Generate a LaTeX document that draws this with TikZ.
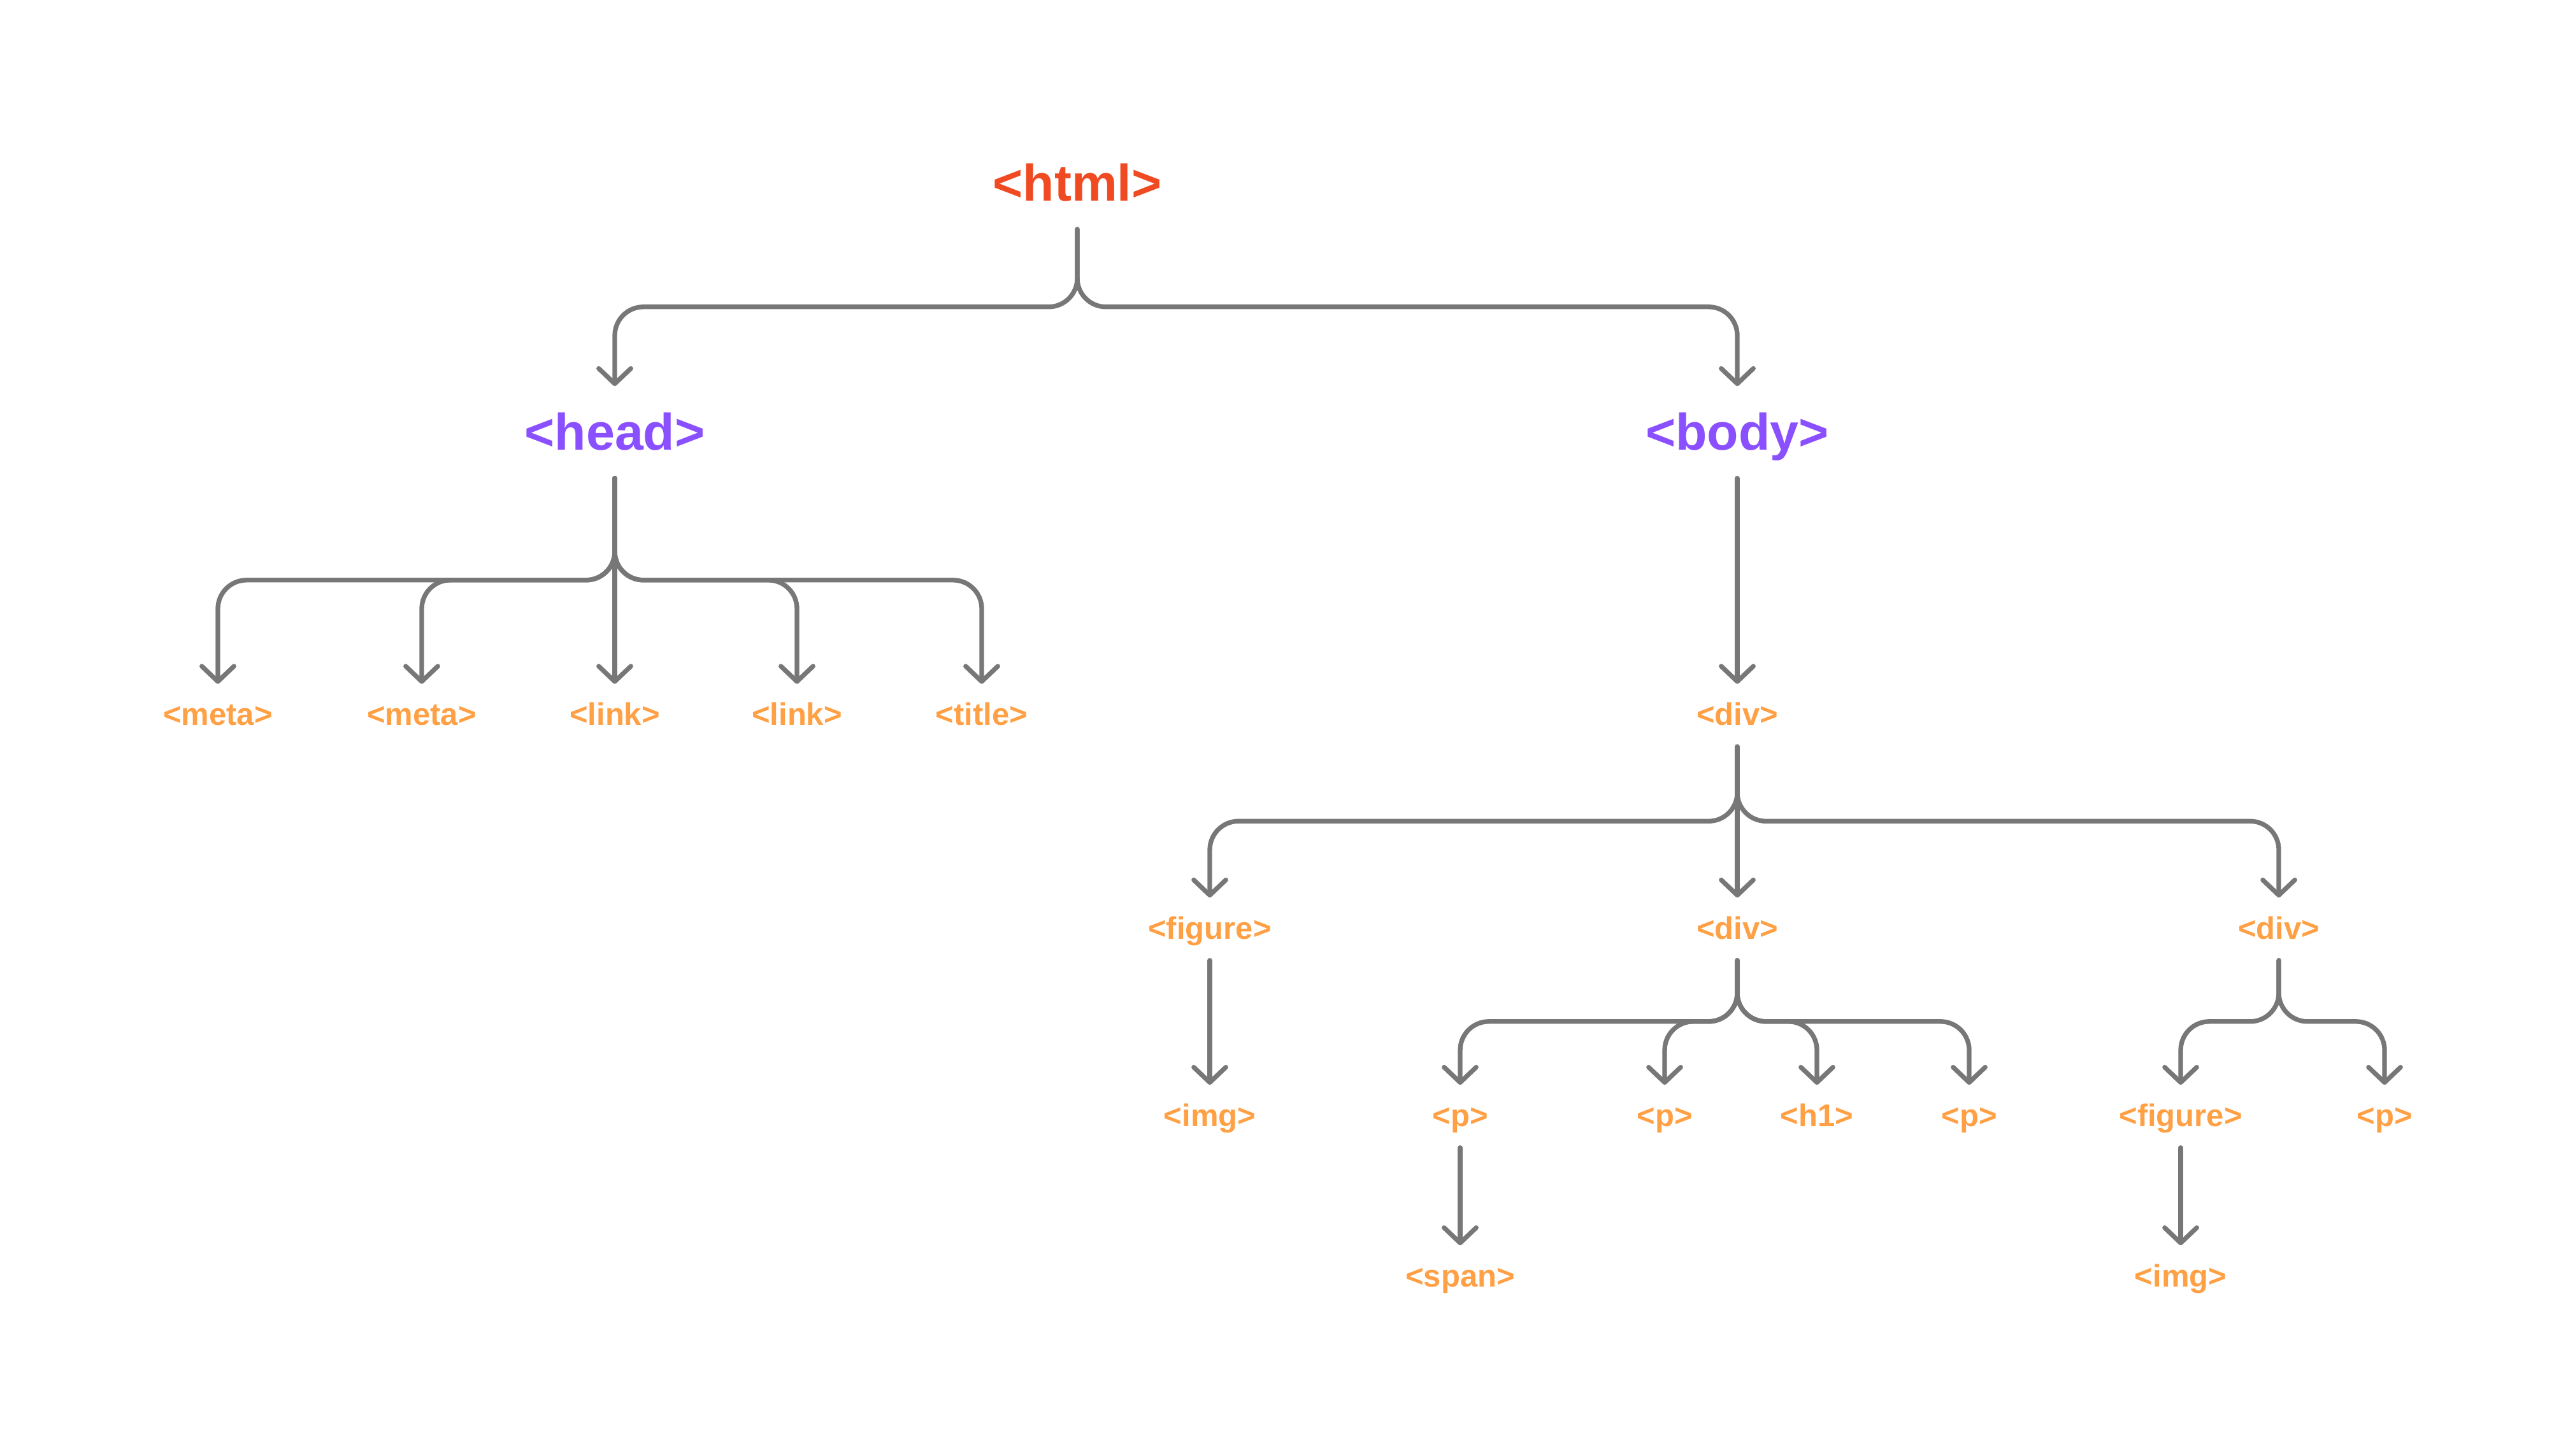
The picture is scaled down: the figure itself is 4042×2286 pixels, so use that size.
\documentclass[tikz,border=0pt]{standalone}
\usepackage{fontspec}
\setmainfont{Liberation Sans}
\usetikzlibrary{arrows.meta}
\definecolor{htmlred}{HTML}{F04A23}
\definecolor{tagpurple}{HTML}{8A50FF}
\definecolor{tagorange}{HTML}{FFA045}
\definecolor{linkgray}{HTML}{777777}
\begin{document}
\begin{tikzpicture}[x=0.25pt,y=-0.25pt,
    tag/.style={font=\bfseries\fontsize{12.25}{14}\selectfont,text=tagorange,
        inner sep=0pt,anchor=base,text height=16pt,text depth=8.25pt},
    bigtag/.style={tag,font=\bfseries\fontsize{20.2}{24}\selectfont,
        text height=25pt,text depth=10.75pt},
    link/.style={draw=linkgray,line width=1.83pt,line cap=round,rounded corners=11.25pt,
        -{Straight Barb[length=6pt,width=12.6pt,round]}}]
\useasboundingbox (0,0) rectangle (4042,2286);
% tags
\node[bigtag,text=htmlred] (html) at (1691,316) {<html>};
\node[bigtag,text=tagpurple] (head) at (965,707) {<head>};
\node[bigtag,text=tagpurple] (body) at (2727,707) {<body>};
\node[tag] (meta1) at (342,1138.5) {<meta>};
\node[tag] (meta2) at (662,1138.5) {<meta>};
\node[tag] (link1) at (965,1138.5) {<link>};
\node[tag] (link2) at (1251,1138.5) {<link>};
\node[tag] (title) at (1541,1138.5) {<title>};
\node[tag] (div1) at (2727,1138.5) {<div>};
\node[tag] (fig1) at (1899,1474) {<figure>};
\node[tag] (div2) at (2727,1474) {<div>};
\node[tag] (div3) at (3577,1474) {<div>};
\node[tag] (img1) at (1899,1768) {<img>};
\node[tag] (p1) at (2292,1768) {<p>};
\node[tag] (p2) at (2613,1768) {<p>};
\node[tag] (h1) at (2852,1768) {<h1>};
\node[tag] (p3) at (3091,1768) {<p>};
\node[tag] (fig2) at (3423,1768) {<figure>};
\node[tag] (p4) at (3743,1768) {<p>};
\node[tag] (span) at (2292,2020) {<span>};
\node[tag] (img2) at (3423,2020) {<img>};
% links
\draw[link] (html.south) -- ++(0,122) -| (head.north);
\draw[link] (html.south) -- ++(0,122) -| (body.north);
\foreach \c in {meta1,meta2,link2,title}
    \draw[link] (head.south) -- ++(0,160) -| (\c.north);
\draw[link] (head.south) -- (link1.north);
\draw[link] (body.south) -- (div1.north);
\foreach \c in {fig1,div3}
    \draw[link] (div1.south) -- ++(0,117) -| (\c.north);
\draw[link] (div1.south) -- (div2.north);
\draw[link] (fig1.south) -- (img1.north);
\foreach \c in {p1,p2,h1,p3}
    \draw[link] (div2.south) -- ++(0,96) -| (\c.north);
\foreach \c in {fig2,p4}
    \draw[link] (div3.south) -- ++(0,96) -| (\c.north);
\draw[link] (p1.south) -- (span.north);
\draw[link] (fig2.south) -- (img2.north);
\end{tikzpicture}
\end{document}
